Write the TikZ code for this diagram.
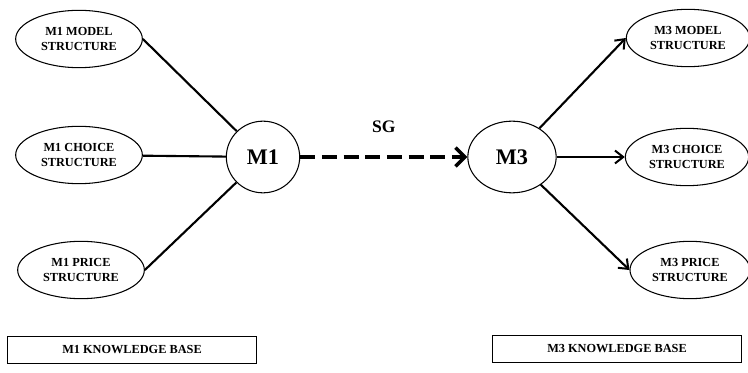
\documentclass[tikz,border=0pt]{standalone}
\usepackage{fontspec}
\setmainfont{Liberation Serif}
\usetikzlibrary{shapes.geometric,arrows.meta}

\begin{document}
\begin{tikzpicture}[x=0.03cm,y=-0.03cm,
    part/.style={draw,ellipse,line width=0.9pt,minimum width=3.8cm,minimum height=1.72cm,
        inner sep=0pt,align=center,font=\bfseries\fontsize{10.5}{12.5}\selectfont},
    model/.style={draw,ellipse,line width=0.9pt,minimum height=2.15cm,inner sep=0pt,
        font=\bfseries\fontsize{19}{22}\selectfont},
    base/.style={draw,line width=0.9pt,minimum height=0.8cm,inner sep=0pt,
        font=\bfseries\fontsize{10.5}{12}\selectfont},
    link/.style={line width=1.8pt},
    flow/.style={line width=1.8pt,-{Straight Barb[length=7pt,width=11pt,line width=1.7pt]}}]
    \useasboundingbox (0,0) rectangle (748,373);

    % M1 side
    \node[part] (m1model) at (79,39) {M1 MODEL\\STRUCTURE};
    \node[part] (m1choice) at (79,155) {M1 CHOICE\\STRUCTURE};
    \node[part] (m1price) at (81,270) {M1 PRICE\\STRUCTURE};
    \node[model,minimum width=2.2cm] (m1) at (263,157) {M1};
    \node[base,minimum width=7.45cm] (m1base) at (132,350) {M1 KNOWLEDGE BASE};

    % M3 side
    \node[model,minimum width=2.65cm] (m3) at (512,157) {M3};
    \node[part,minimum width=3.7cm] (m3model) at (688,38) {M3 MODEL\\STRUCTURE};
    \node[part,minimum width=3.7cm] (m3choice) at (687,157) {M3 CHOICE\\STRUCTURE};
    \node[part,minimum width=3.6cm] (m3price) at (690,270) {M3 PRICE\\STRUCTURE};
    \node[base,minimum width=7.45cm] (m3base) at (617,349) {M3 KNOWLEDGE BASE};

    \draw[link] (m1model.east) -- (m1);
    \draw[link] (m1choice) -- (m1);
    \draw[link] (m1price.east) -- (m1);

    \draw[line width=4pt,dash pattern=on 0.45cm off 0.2cm,
        -{Straight Barb[length=8pt,width=16pt,line width=3pt]}] (m1) -- (m3)
        node[midway,above=0.55cm,font=\bfseries\fontsize{15}{18}\selectfont] (sg) {SG};

    \draw[flow] (m3) -- (m3model.west);
    \draw[flow] (m3) -- (m3choice);
    \draw[flow] (m3) -- (m3price.west);
\end{tikzpicture}
\end{document}
